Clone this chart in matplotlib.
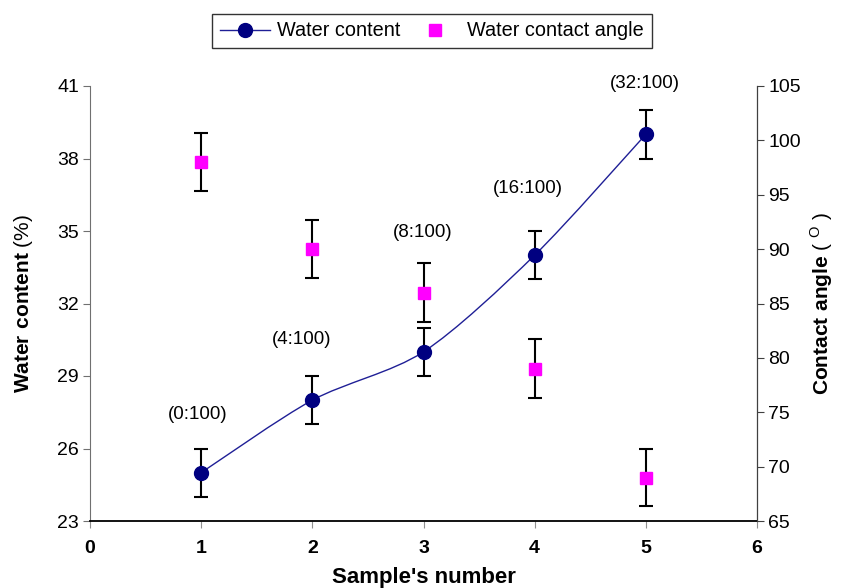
import matplotlib
matplotlib.use("Agg")
import matplotlib.pyplot as plt
from matplotlib.path import Path
from matplotlib.patches import PathPatch
from matplotlib.lines import Line2D
import numpy as np

plt.rcParams['font.family'] = ['Liberation Sans', 'DejaVu Sans']
plt.rcParams['mathtext.fontset'] = 'custom'
plt.rcParams['mathtext.rm'] = 'Liberation Sans'
plt.rcParams['mathtext.bf'] = 'Liberation Sans:bold'

samples = [1, 2, 3, 4, 5]
water = [25, 28, 30, 34, 39]
water_err = [1, 1, 1, 1, 1]
angle = [98, 90, 86, 79, 69]
angle_err = [2.7, 2.7, 2.7, 2.7, 2.6]
ratio_labels = ["(0:100)", "(4:100)", "(8:100)", "(16:100)", "(32:100)"]
label_x = [0.97, 1.90, 2.99, 3.94, 4.99]
label_y = [27.4, 30.5, 34.95, 36.75, 41.1]

fig = plt.figure(figsize=(8.43, 5.88), dpi=100)
ax = fig.add_axes([90/843, 1-521/588, (757-90)/843, (521-86)/588])
ax2 = ax.twinx()

navy = '#000080'
line_col = '#1f1f96'

# smoothed line (Excel-style Catmull-Rom Bezier)
xs = np.array(samples, float)
ys = np.array(water, float)
verts = [(xs[0], ys[0])]
codes = [Path.MOVETO]
n = len(xs)
for i in range(n - 1):
    p0 = np.array([xs[max(i-1, 0)], ys[max(i-1, 0)]])
    p1 = np.array([xs[i], ys[i]])
    p2 = np.array([xs[i+1], ys[i+1]])
    p3 = np.array([xs[min(i+2, n-1)], ys[min(i+2, n-1)]])
    c1 = p1 + (p2 - p0) / 7
    c2 = p2 - (p3 - p1) / 7
    verts += [tuple(c1), tuple(c2), tuple(p2)]
    codes += [Path.CURVE4] * 3
ax.add_patch(PathPatch(Path(verts, codes), fill=False, edgecolor=line_col, lw=1.0, zorder=3))

ax.errorbar(samples, water, yerr=water_err, fmt='none', ecolor='black',
            elinewidth=1.5, capsize=5, capthick=1.5, zorder=2)
ax.plot(samples, water, 'o', color=navy, markersize=10, zorder=4)

ax2.errorbar(samples, angle, yerr=angle_err, fmt='none', ecolor='black',
             elinewidth=1.5, capsize=5, capthick=1.5, zorder=2)
ax2.plot(samples, angle, 's', color='#ff00ff', markersize=8, zorder=4)

for x, y, t in zip(label_x, label_y, ratio_labels):
    ax.text(x, y, t, ha='center', va='center', fontsize=13.5, clip_on=False)

ax.set_xlim(0, 6)
ax.set_ylim(23, 41)
ax.set_yticks([23, 26, 29, 32, 35, 38, 41])
ax.set_xticks([0, 1, 2, 3, 4, 5, 6])
ax2.set_ylim(65, 105)
ax2.set_yticks([65, 70, 75, 80, 85, 90, 95, 100, 105])

for a in (ax, ax2):
    a.spines['top'].set_visible(False)
ax.spines['left'].set_color('#707070')
ax2.spines['right'].set_color('#404040')
ax.spines['bottom'].set_color('black')
ax.spines['bottom'].set_linewidth(1.3)
ax2.spines['left'].set_visible(False)
ax2.spines['bottom'].set_visible(False)

ax.tick_params(axis='y', direction='out', length=5, colors='#707070', labelcolor='black', labelsize=14, pad=3)
ax.tick_params(axis='x', direction='out', length=5, colors='#909090', labelcolor='black', labelsize=14, pad=9)
for lab in ax.get_xticklabels():
    lab.set_fontweight('bold')
ax2.tick_params(axis='y', direction='out', length=5, colors='#404040', labelcolor='black', labelsize=14, pad=3)

ax.set_xlabel("Sample's number", fontsize=16, fontweight='bold', labelpad=7)
ax.set_ylabel(r"$\bf{Water\ content}$ (%)", fontsize=15)
ax.yaxis.set_label_coords((35-90)/667, 0.5)
ax2.set_ylabel(r"$\bf{Contact\ angle}$ ( $^{\rm O}$ )", fontsize=15)
ax2.yaxis.set_label_coords((808-90)/667, 0.5)

handles = [Line2D([0], [0], color=line_col, lw=1.0, marker='o', markersize=10,
                  markerfacecolor=navy, markeredgecolor=navy),
           Line2D([0], [0], color='none', marker='s', markersize=8,
                  markerfacecolor='#ff00ff', markeredgecolor='#ff00ff')]
leg = fig.legend(handles, ["Water content", "Water contact angle"], ncol=2,
                 loc='center', bbox_to_anchor=(432/843, 1-31/588), fontsize=14.3,
                 frameon=True, fancybox=False, edgecolor='black', handlelength=2.5,
                 columnspacing=0.5, borderpad=0.4, handletextpad=0.35)
leg.get_frame().set_linewidth(1.0)

fig.savefig("out.png", dpi=100)
